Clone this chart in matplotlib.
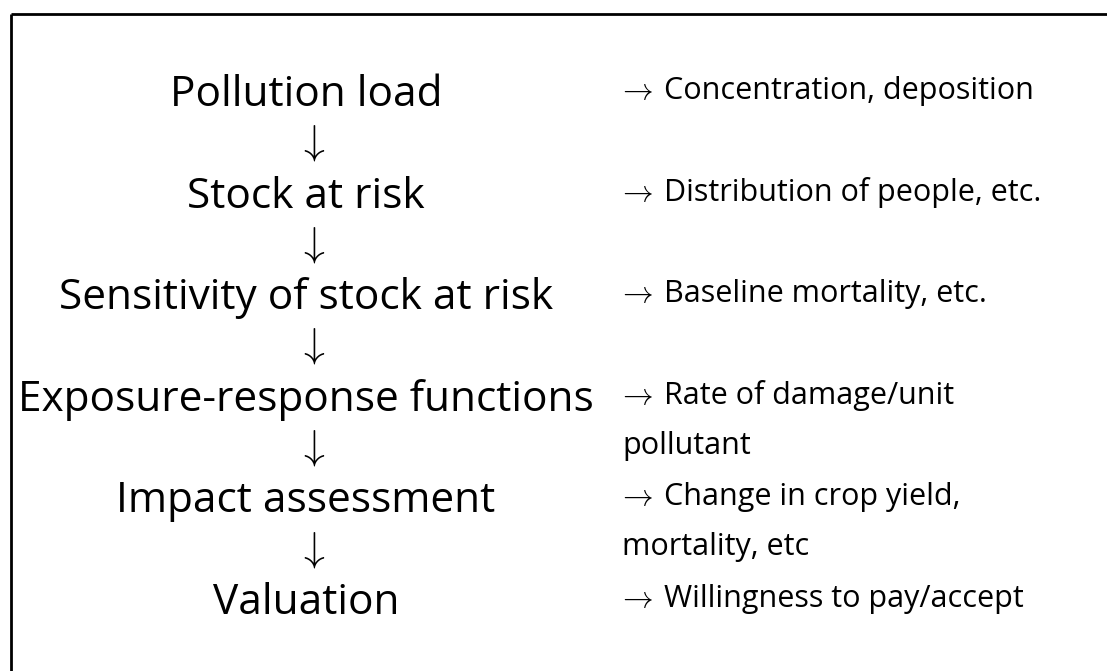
import matplotlib
matplotlib.use("Agg")
import matplotlib.pyplot as plt


stages = [
  "Pollution load",
  "Stock at risk",
  "Sensitivity of stock at risk",
  "Exposure-response functions",
  "Impact assessment",
  "Valuation",
]

notes = [
  ["Concentration, deposition"],
  ["Distribution of people, etc."],
  ["Baseline mortality, etc."],
  ["Rate of damage/unit", "pollutant"],
  ["Change in crop yield,", "mortality, etc"],
  ["Willingness to pay/accept"],
]

W, H = 1107, 671

plt.rcParams["font.family"] = ["Open Sans", "DejaVu Sans"]
plt.rcParams["mathtext.fontset"] = "cm"

fig = plt.figure(figsize=(W / 100, H / 100), dpi=100)
ax = fig.add_axes([0, 0, 1, 1])
ax.set_xlim(0, W)
ax.set_ylim(H, 0)
ax.axis("off")

# frame (open at bottom/right, as in the source image)
ax.plot([11, W + 5], [14, 14], color="black", linewidth=2, solid_capstyle="butt")
ax.plot([11, 11], [14, H + 5], color="black", linewidth=2, solid_capstyle="butt")

center_x = 306
arrow_x = 311
note_x = 617
text_x = 664
first_base = 106
step = 101.6
wrap_step = 50

for i, (stage, note) in enumerate(zip(stages, notes)):
  base = first_base + i * step
  ax.text(center_x, base, stage, ha="center", va="baseline", fontsize=30.5)

  nb = base - 7
  ax.text(note_x, nb, r"$\rightarrow$", ha="left", va="baseline", fontsize=22)
  ax.text(text_x, nb, note[0], ha="left", va="baseline", fontsize=22)
  # wrapped continuation lines start under the arrow
  for j, line in enumerate(note[1:], start=1):
    ax.text(note_x + 5, nb + j * wrap_step, line, ha="left", va="baseline", fontsize=22)

  if i < len(stages) - 1:
    ax.text(arrow_x, base + step / 2 - 14, r"$\downarrow$", ha="center",
            va="center", fontsize=30)

fig.savefig("out.png", dpi=100)
